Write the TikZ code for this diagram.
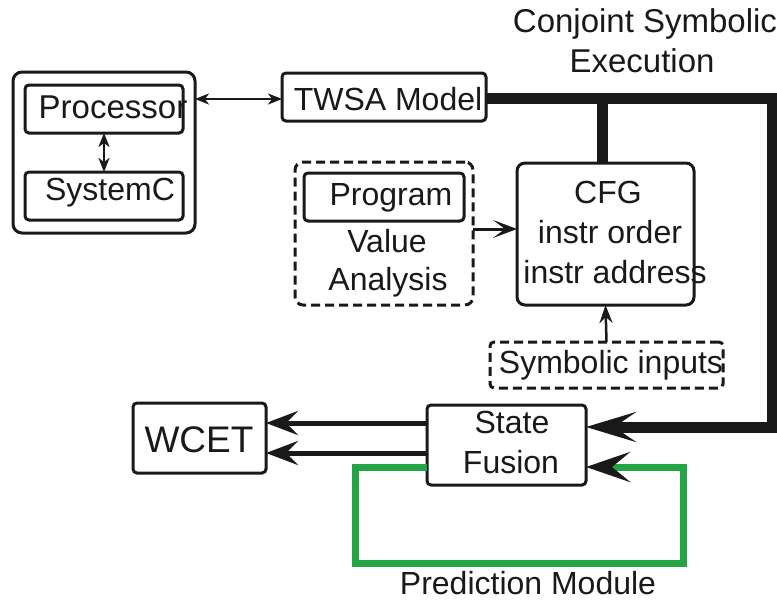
\documentclass[tikz,border=0pt]{standalone}
\usepackage{fontspec}
\setmainfont{Liberation Sans}
\usetikzlibrary{arrows.meta}
\definecolor{ink}{RGB}{25,25,25}
\definecolor{loopgreen}{RGB}{35,165,70}
\tikzset{
  box/.style={draw=ink, line width=3pt, rounded corners=4pt, inner sep=0pt, outer sep=0pt},
  dbox/.style={box, dash pattern=on 9pt off 5pt},
  txt/.style={anchor=base, inner sep=0pt, text=ink, font=\fontsize{32}{38}\selectfont},
  bigtxt/.style={txt, font=\fontsize{37}{44}\selectfont},
  toptxt/.style={txt, font=\fontsize{33}{40}\selectfont},
  tinytip/.style={line width=2pt, draw=ink, {Stealth[length=14pt,width=11pt,inset=4pt]}-{Stealth[length=14pt,width=11pt,inset=4pt]}},
  midarrow/.style={line width=3pt, draw=ink, -{Stealth[length=24pt,width=18pt,inset=12pt]}},
  wcetarrow/.style={line width=5pt, draw=ink, -{Stealth[length=32pt,width=24pt,inset=12pt]}},
  thickln/.style={line width=11pt, draw=ink, line join=miter},
  bigarrow/.style={-{Stealth[length=50pt,width=30pt,inset=22pt,color=ink]}},
  greenarrow/.style={-{Stealth[length=44pt,width=30pt,inset=18pt,color=ink]}},
  greenln/.style={line width=7pt, draw=loopgreen, line join=miter}
}
\begin{document}
\begin{tikzpicture}[x=1pt,y=-1pt]
\useasboundingbox (0,0) rectangle (777,603);
% boxes
\node[box, rounded corners=9pt, minimum width=182pt, minimum height=161pt] (outer) at (104,152.5) {};
\node[box, minimum width=158pt, minimum height=48pt] (proc) at (104,109) {};
\node[box, minimum width=158pt, minimum height=48pt] (sysc) at (104,196) {};
\node[box, minimum width=204pt, minimum height=48pt] (twsa) at (384,97) {};
\node[dbox, rounded corners=8pt, minimum width=178pt, minimum height=143pt] (prog) at (384,233.5) {};
\node[box, minimum width=160pt, minimum height=48pt] (progin) at (384,197) {};
\node[box, rounded corners=8pt, minimum width=177pt, minimum height=142pt] (cfg) at (605.5,234) {};
\node[dbox, minimum width=233pt, minimum height=46pt] (sym) at (606.5,365) {};
\node[box, minimum width=133pt, minimum height=70pt] (wcet) at (199.5,438) {};
\node[box, minimum width=159pt, minimum height=80pt] (sf) at (506.5,445) {};
% texts
\node[toptxt] (tproc) at (113,118) {Processor};
\node[txt] (tsysc) at (110,200) {SystemC};
\node[txt] (ttwsa) at (388,110) {TWSA Model};
\node[toptxt] (tcse1) at (645,32) {Conjoint Symbolic};
\node[toptxt] (tcse2) at (642,72) {Execution};
\node[txt] (tprog) at (391,205) {Program};
\node[txt] (tval) at (387,252) {Value};
\node[txt] (tana) at (388,290) {Analysis};
\node[txt] (tcfg) at (608,203) {CFG};
\node[txt] (tord) at (610,243) {instr order};
\node[txt] (tadr) at (615,283) {instr address};
\node[txt] (tsym) at (611,373) {Symbolic inputs};
\node[bigtxt] (twcet) at (199,452) {WCET};
\node[txt] (tstate) at (512,433) {State};
\node[txt] (tfus) at (511,473) {Fusion};
\node[txt] (tpred) at (528,594) {Prediction Module};
% level coordinates
\coordinate (l99) at (0,99);
\coordinate (l229) at (0,229);
\coordinate (l423) at (0,423);
\coordinate (l453) at (0,453);
\coordinate (l467) at (0,467);
\coordinate (c1) at (772,98);
\coordinate (c2) at (772,427);
\coordinate (bx) at (602,0);
\coordinate (g1) at (355,467);
\coordinate (g2) at (355,563);
\coordinate (g3) at (683,563);
\coordinate (g4) at (683,467);
% connectors
\draw[tinytip] (proc.south) -- (sysc.north);
\draw[tinytip] (outer.east |- l99) -- (twsa.west |- l99);
\draw[thickln] (twsa.east |- c1) -- (c1) -- (c2) -- ([xshift=20pt]sf.east |- c2);
\draw[thickln, bigarrow] ([xshift=45pt]sf.east |- c2) -- (sf.east |- c2);
\draw[thickln] (bx |- c1) -- (bx |- cfg.north);
\draw[midarrow] (prog.east |- l229) -- (cfg.west |- l229);
\draw[line width=2.5pt, draw=ink, -{Stealth[length=18pt,width=13pt,inset=6pt]}] (sym.north) -- (cfg.south);
\draw[wcetarrow] (sf.west |- l423) -- (wcet.east |- l423);
\draw[wcetarrow] (sf.west |- l453) -- (wcet.east |- l453);
\draw[greenln] (sf.west |- l467) -- (g1) -- (g2) -- (g3) -- (g4) -- ([xshift=20pt]sf.east |- g4);
\draw[greenln, greenarrow] ([xshift=45pt]sf.east |- g4) -- (sf.east |- g4);
\end{tikzpicture}
\end{document}
